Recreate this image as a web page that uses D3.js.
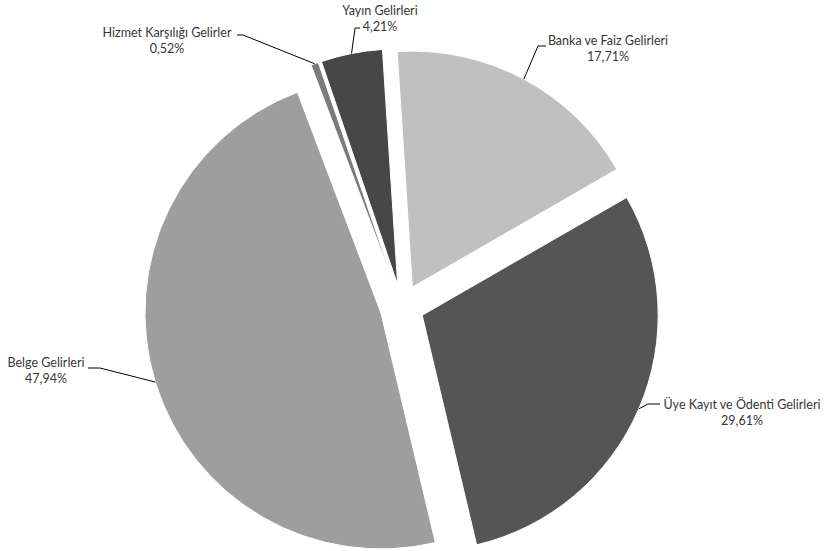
<!DOCTYPE html>
<html>
<head>
<meta charset="utf-8">
<script src="https://cdn.jsdelivr.net/npm/d3@7"></script>
<style>
  html, body { margin: 0; padding: 0; background: #fff; }
  svg text { font-family: Lato, "Open Sans", sans-serif; font-size: 12.5px; fill: #363636; }
</style>
</head>
<body>
<svg id="chart" width="824" height="551"></svg>
<script>
const categories = ["Banka ve Faiz Gelirleri", "Üye Kayıt ve Ödenti Gelirleri", "Belge Gelirleri", "Hizmet Karşılığı Gelirler", "Yayın Gelirleri"];
const values = [17.71, 29.61, 47.94, 0.52, 4.21];
const percentLabels = ["17,71%", "29,61%", "47,94%", "0,52%", "4,21%"];
const colors = ["#c0c0c0", "#555555", "#9d9e9d", "#7b7b7b", "#474747"];

// label layout: text centre x, first baseline y, elbow point, end point
const labelLayout = [
  { x: 608, y: 45, elbow: [538, 46], end: [546, 46] },
  { x: 742, y: 409, elbow: [648, 404], end: [660, 404] },
  { x: 46, y: 367, elbow: [100, 368], end: [88, 368] },
  { x: 167, y: 37, elbow: [243, 35], end: [237, 35] },
  { x: 380, y: 15, elbow: [355, 28], end: [360, 28] }
];

const svg = d3.select("#chart");
const cx = 402, cy = 306.5, R = 236, explode = 22;
const start = -3.7 * Math.PI / 180;

const pie = d3.pie().sort(null).value(d => d)
  .startAngle(start).endAngle(start + 2 * Math.PI);
const arcs = pie(values);
const arc = d3.arc().innerRadius(0).outerRadius(R);

const g = svg.append("g").attr("transform", `translate(${cx},${cy})`);

arcs.forEach((a, i) => {
  const mid = (a.startAngle + a.endAngle) / 2;
  const ox = explode * Math.sin(mid), oy = -explode * Math.cos(mid);
  g.append("path")
    .attr("d", arc(a))
    .attr("transform", `translate(${ox},${oy})`)
    .attr("fill", colors[i])
    .attr("stroke", "#fff")
    .attr("stroke-width", 1);
});

arcs.forEach((a, i) => {
  const mid = (a.startAngle + a.endAngle) / 2;
  const px = cx + (explode + R) * Math.sin(mid);
  const py = cy - (explode + R) * Math.cos(mid);
  const L = labelLayout[i];
  svg.append("polyline")
    .attr("points", [[px, py], L.elbow, L.end].map(p => p.join(",")).join(" "))
    .attr("fill", "none")
    .attr("stroke", "#000")
    .attr("stroke-width", 1);
  const t = svg.append("text").attr("text-anchor", "middle");
  t.append("tspan").attr("x", L.x).attr("y", L.y).text(categories[i]);
  t.append("tspan").attr("x", L.x).attr("y", L.y + 16).text(percentLabels[i]);
});
</script>
</body>
</html>
